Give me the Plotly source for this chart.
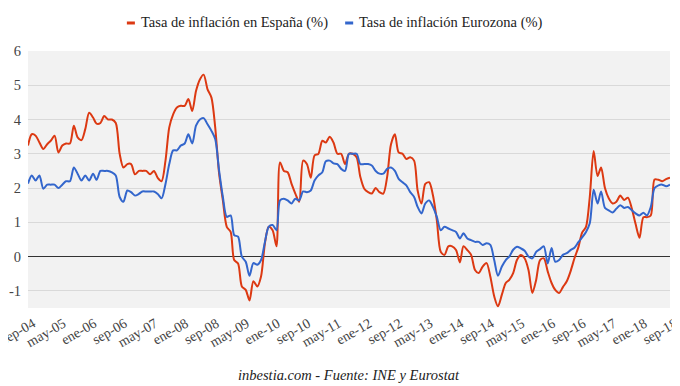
import plotly.graph_objects as go
import pandas as pd

months = pd.date_range("2004-09-01", "2018-09-01", freq="MS")

spain = [
    3.24, 3.57, 3.53, 3.33, 3.14, 3.28, 3.38, 3.53, 3.04, 3.24, 3.3, 3.3,
    3.82, 3.48, 3.4, 3.72, 4.2, 4.06, 3.88, 3.9, 4.1, 4.0, 4.0, 3.9,
    3.0, 2.6, 2.7, 2.7, 2.4, 2.5, 2.5, 2.5, 2.4, 2.5, 2.3, 2.2,
    2.8, 3.77, 4.15, 4.35, 4.4, 4.4, 4.6, 4.25, 4.83, 5.17, 5.31, 4.88,
    4.64, 3.77, 2.42, 1.64, 0.87, 0.72, -0.1, -0.2, -0.87, -0.97, -1.28, -0.72,
    -0.87, -0.58, 0.39, 0.87, 0.77, 0.3, 2.75, 2.5, 2.46, 2.12, 1.84, 1.6,
    2.8, 2.7, 2.3, 2.95, 3.0, 3.38, 3.33, 3.5, 3.33, 3.0, 3.0, 2.7,
    3.0, 3.0, 2.9, 2.32, 1.98, 1.88, 1.84, 2.0, 1.88, 1.84, 2.32, 3.28,
    3.57, 3.04, 3.0, 2.85, 2.9, 2.8, 1.93, 1.55, 2.12, 2.17, 1.79, 1.06,
    0.14, 0.05, 0.3, 0.3, 0.19, -0.17, 0.3, 0.19, 0.05, -0.39, -0.48, -0.29,
    -0.19, -0.58, -1.16, -1.45, -1.11, -0.77, -0.68, -0.48, -0.1, 0.05, -0.05, -0.39,
    -1.06, -0.68, -0.1, -0.05, -0.43, -0.77, -0.97, -1.06, -0.89, -0.72, -0.43, -0.05,
    0.27, 0.7, 0.87, 1.74, 3.08, 2.35, 2.6, 2.0, 1.7, 1.55, 1.6, 1.78,
    1.65, 1.72, 1.4, 0.95, 0.55, 1.15, 1.15, 1.2, 2.25, 2.24, 2.2, 2.26,
    2.3,
]

eurozone = [
    2.13, 2.37, 2.22, 2.37, 1.98, 2.1, 2.1, 2.1, 2.0, 2.1, 2.2, 2.2,
    2.6, 2.42, 2.22, 2.37, 2.22, 2.42, 2.24, 2.5, 2.5, 2.5, 2.46, 2.37,
    1.74, 1.6, 1.93, 1.88, 1.78, 1.83, 1.9, 1.9, 1.9, 1.9, 1.83, 1.7,
    2.12, 2.7, 3.1, 3.1, 3.24, 3.3, 3.57, 3.3, 3.82, 4.0, 4.04, 3.86,
    3.67, 3.43, 2.51, 1.74, 1.16, 1.2, 0.63, 0.58, 0.0, -0.15, -0.56, -0.19,
    -0.24, -0.1, 0.43, 0.87, 0.92, 0.77, 1.64, 1.69, 1.64, 1.55, 1.69, 1.64,
    1.9, 1.88, 1.93, 2.22, 2.37, 2.46, 2.78, 2.8, 2.72, 2.7, 2.56, 2.5,
    3.0, 3.0, 3.0, 2.7, 2.7, 2.7, 2.66, 2.5, 2.42, 2.42, 2.56, 2.6,
    2.5, 2.27, 2.17, 2.08, 1.88, 1.74, 1.45, 1.26, 1.55, 1.64, 1.45, 1.16,
    0.77, 0.87, 0.82, 0.77, 0.72, 0.53, 0.68, 0.53, 0.48, 0.43, 0.43, 0.34,
    0.39, 0.34, -0.1, -0.56, -0.29, -0.1, 0.0, 0.2, 0.29, 0.24, 0.17, 0.0,
    -0.05, 0.14, 0.22, 0.3, -0.2, 0.25, -0.15, -0.1, 0.05, 0.1, 0.19, 0.26,
    0.42, 0.56, 0.72, 0.97, 1.95, 1.55, 1.9, 1.42, 1.35, 1.29, 1.4, 1.5,
    1.42, 1.45, 1.35, 1.26, 1.2, 1.28, 1.2, 1.45, 2.0, 2.08, 2.1, 2.05,
    2.1,
]

tick_labels = [
    "sep-04", "may-05", "ene-06", "sep-06", "may-07", "ene-08", "sep-08",
    "may-09", "ene-10", "sep-10", "may-11", "ene-12", "sep-12", "may-13",
    "ene-14", "sep-14", "may-15", "ene-16", "sep-16", "may-17", "ene-18", "sep-18",
]
tick_dates = list(months[::8])

y_ticks = [-1, 0, 1, 2, 3, 4, 5, 6]
y_tick_labels = ["-1", "0", "1", "2", "3", "4", "5", "6"]

series_names = ["Tasa de inflación en España (%)", "Tasa de inflación Eurozona (%)"]
colors = ["#dc3912", "#3366cc"]

FONT = "Liberation Serif"

fig = go.Figure()
for name, vals, col in zip(series_names, [spain, eurozone], colors):
    fig.add_trace(go.Scatter(
        x=months, y=vals, name=name, mode="lines",
        line=dict(color=col, width=2, shape="spline", smoothing=0.8),
        showlegend=False, hoverinfo="skip",
    ))

# custom legend (short bar markers like the original)
legend_items = [(0.154, series_names[0], colors[0]), (0.494, series_names[1], colors[1])]
for xp, name, col in legend_items:
    fig.add_shape(type="line", xref="paper", yref="paper",
                  x0=xp, x1=xp + 0.0125, y0=1.109, y1=1.109,
                  line=dict(color=col, width=3))
    fig.add_annotation(x=xp + 0.0215, y=1.109, xref="paper", yref="paper",
                       text=name, showarrow=False, xanchor="left", yanchor="middle",
                       xshift=-2,
                       font=dict(family=FONT, size=14.5, color="#222222"))

fig.add_annotation(x=0.5, y=-0.261, xref="paper", yref="paper",
                   text="<i>inbestia.com - Fuente: INE y Eurostat</i>", showarrow=False,
                   xanchor="center", yanchor="middle",
                   font=dict(family=FONT, size=14.5, color="#222222"))

# the page body has an 8px margin, so the figure is sized to fill the rest
fig.update_layout(
    width=672, height=378,
    margin=dict(l=20, r=10, t=43, b=78, autoexpand=False),
    paper_bgcolor="white",
    plot_bgcolor="#f2f2f2",
    font=dict(family=FONT, size=14, color="#444444"),
    xaxis=dict(
        range=[months[0], months[-1]],
        tickvals=tick_dates, ticktext=tick_labels, tickangle=-30,
        showgrid=False, zeroline=False, showline=False, ticks="",
        automargin=False,
        ticklabeloverflow="allow",
        ticklabelshift=5, ticklabelstandoff=4,
        tickfont=dict(family=FONT, size=14, color="#444444"),
    ),
    yaxis=dict(
        range=[-1.5, 6],
        tickvals=y_ticks, ticktext=y_tick_labels,
        gridcolor="#d9d9d9", gridwidth=1,
        zeroline=True, zerolinecolor="#333333", zerolinewidth=1,
        showline=False, ticks="",
        automargin=False,
        ticklabelstandoff=6,
        tickfont=dict(family=FONT, size=14.5, color="#444444"),
    ),
)

fig.write_html("out.html")
